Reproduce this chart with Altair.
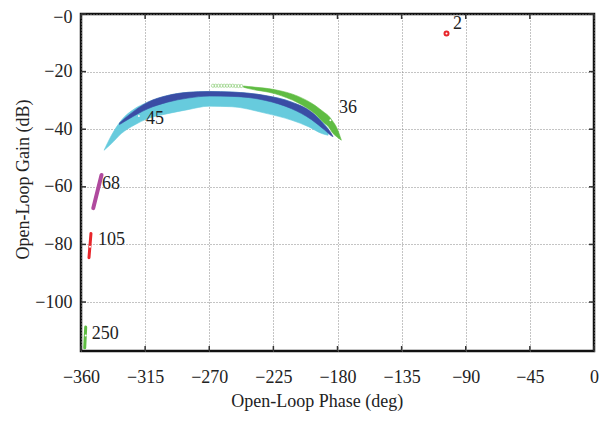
import altair as alt
import pandas as pd

FONT = "Liberation Serif"

x_ticks = [-360, -315, -270, -225, -180, -135, -90, -45, 0]
y_ticks = [0, -20, -40, -60, -80, -100]

# Cyan band (label 45)
cyan_x = [-343.8, -338.6, -331.7, -322.4, -313.1, -299.2, -285.0, -270.0, -254.0, -231.0, -212.0, -200.0, -191.0, -186.6]
cyan_top = [-47.3, -42.1, -36.9, -32.9, -30.6, -28.3, -27.2, -26.9, -27.1, -28.3, -30.6, -33.6, -37.2, -39.8]
cyan_bottom = [-47.3, -45.0, -41.5, -38.5, -36.3, -34.6, -33.2, -32.0, -32.2, -34.4, -36.9, -39.2, -41.5, -42.1]

# Dark blue band
blue_x = [-333.0, -327.0, -313.1, -299.2, -285.0, -270.0, -254.0, -230.7, -212.2, -198.2, -189.0, -184.3, -183.1]
blue_top = [-37.8, -35.3, -30.6, -28.3, -27.2, -26.9, -27.1, -28.3, -30.6, -34.0, -38.6, -41.5, -42.6]
blue_bottom = [-38.4, -36.6, -32.9, -30.6, -29.2, -28.5, -28.6, -30.0, -32.9, -36.7, -40.3, -42.3, -42.6]

# Green band (label 36)
green_x = [-246.0, -242.3, -223.7, -207.5, -195.9, -189.0, -186.6, -183.1, -180.8, -177.3]
green_top = [-25.0, -25.2, -26.3, -28.6, -31.7, -34.3, -35.2, -37.4, -39.2, -43.8]
green_bottom = [-25.4, -25.9, -27.7, -30.9, -34.6, -38.0, -39.0, -41.5, -42.5, -43.8]

# Light green sparse points at start of the green band
lgreen_x = [-267.4, -265.5, -263.5, -261.5, -259.5, -257.5, -255.5, -253.5, -251.5, -249.5, -247.5]
lgreen_y = [-24.9, -24.9, -24.9, -24.9, -24.9, -24.9, -24.9, -24.9, -25.0, -25.0, -25.0]

# Short segments
mag_x = [-351.4, -345.6]
mag_y = [-67.4, -55.9]
red105_x = [-354.4, -353.0]
red105_y = [-84.6, -76.2]
green250_x = [-357.4, -356.7]
green250_y = [-115.9, -108.7]
red2_x = [-103.5]
red2_y = [-6.8]

# Nominal (white) points
nom_x = [-185.0, -319.4, -353.7, -356.7]
nom_y = [-36.9, -35.4, -80.8, -111.6]

# Labels
lab_text = ["2", "36", "45", "68", "105", "250"]
lab_x = [-98.9, -179.0, -314.3, -345.2, -348.0, -352.5]
lab_y = [-3.6, -32.8, -36.3, -59.0, -78.5, -111.0]

PW, PH = 513, 337

xs = alt.Scale(domain=[-360, 0], nice=False, zero=False)
ys = alt.Scale(domain=[-117, 0], nice=False, zero=False)

xaxis = alt.Axis(
    values=x_ticks, title="Open-Loop Phase (deg)",
    labelExpr="replace(toString(datum.value), '-', '\u2212')",
    grid=True, gridDash=[1, 2], gridColor="#888", gridWidth=1,
    ticks=False, tickSize=0, domain=False,
    labelFont=FONT, labelFontSize=18, labelColor="#222", labelPadding=31,
    labelBaseline="alphabetic", labelFlush=False, labelOverlap=False,
    titleFont=FONT, titleFontSize=18, titleFontWeight="normal", titleColor="#222",
    titleX=235.7, titleY=55, titleBaseline="alphabetic", titleAlign="center",
)
yaxis = alt.Axis(
    values=y_ticks, title="Open-Loop Gain (dB)",
    labelExpr="datum.value == 0 ? '\u22120' : replace(toString(datum.value), '-', '\u2212')",
    labelOffset={"condition": {"test": "datum.value == 0", "value": 3}, "value": 0},
    grid=True, gridDash=[1, 2], gridColor="#888", gridWidth=1,
    ticks=False, tickSize=0, domain=False,
    labelFont=FONT, labelFontSize=18, labelColor="#222", labelPadding=9,
    labelFlush=False, labelOverlap=False,
    titleFont=FONT, titleFontSize=18, titleFontWeight="normal", titleColor="#222",
    titleAngle=270, titleX=-53, titleY=165, titleBaseline="alphabetic", titleAlign="center",
)

X = alt.X("x:Q", scale=xs, axis=xaxis)
Y = alt.Y("y:Q", scale=ys, axis=yaxis)


def band(xv, top, bot, color):
    df = pd.DataFrame({"x": xv, "y": top, "y2": bot})
    return alt.Chart(df).mark_area(color=color, interpolate="monotone", opacity=1,
                                   stroke=color, strokeWidth=0.6).encode(x=X, y=Y, y2="y2:Q")


def seg(xv, yv, color, w):
    df = pd.DataFrame({"x": xv, "y": yv})
    return alt.Chart(df).mark_line(color=color, strokeWidth=w, strokeCap="round").encode(x=X, y=Y)


cyan = band(cyan_x, cyan_top, cyan_bottom, "#67CBDD")
blue = band(blue_x, blue_top, blue_bottom, "#3A4DA5")
green = band(green_x, green_top, green_bottom, "#5FBC43")

lgreen = alt.Chart(pd.DataFrame({"x": lgreen_x, "y": lgreen_y})).mark_point(
    color="#8FD07A", size=10, strokeWidth=1, filled=False).encode(x=X, y=Y)

mag = seg(mag_x, mag_y, "#B04A9E", 4)
red105 = seg(red105_x, red105_y, "#E8262B", 3)
green250 = seg(green250_x, green250_y, "#5FBC43", 3)

red2 = alt.Chart(pd.DataFrame({"x": red2_x, "y": red2_y})).mark_point(
    color="#E8262B", size=16, strokeWidth=2, filled=False, opacity=1).encode(x=X, y=Y)

nom = alt.Chart(pd.DataFrame({"x": nom_x, "y": nom_y})).mark_point(
    color="white", size=4, filled=True, opacity=1).encode(x=X, y=Y)

labels = alt.Chart(pd.DataFrame({"x": lab_x, "y": lab_y, "t": lab_text})).mark_text(
    align="left", baseline="middle", font=FONT, fontSize=18, color="#222").encode(x=X, y=Y, text="t:N")

# Inward tick marks on all four sides
xt = pd.DataFrame({"x": x_ticks})
yt = pd.DataFrame({"y": y_ticks})
tick_style = dict(color="#333", strokeWidth=1.5)
t_bottom = alt.Chart(xt).mark_rule(**tick_style).encode(x=X, y=alt.value(PH), y2=alt.value(PH - 5))
t_top = alt.Chart(xt).mark_rule(**tick_style).encode(x=X, y=alt.value(0), y2=alt.value(5))
t_left = alt.Chart(yt).mark_rule(**tick_style).encode(y=Y, x=alt.value(0), x2=alt.value(5))
t_right = alt.Chart(yt).mark_rule(**tick_style).encode(y=Y, x=alt.value(PW), x2=alt.value(PW - 5))

chart = alt.layer(
    cyan, blue, green, lgreen, mag, red105, green250, red2, nom, labels,
    t_bottom, t_top, t_left, t_right,
).properties(
    width=PW, height=PH,
    autosize=alt.AutoSizeParams(type="none"),
    padding={"left": 73, "top": 6, "right": 5, "bottom": 60},
).configure_view(stroke="#111", strokeWidth=2.5)

chart.save("out.html", embed_options={"renderer": "svg", "actions": False})
